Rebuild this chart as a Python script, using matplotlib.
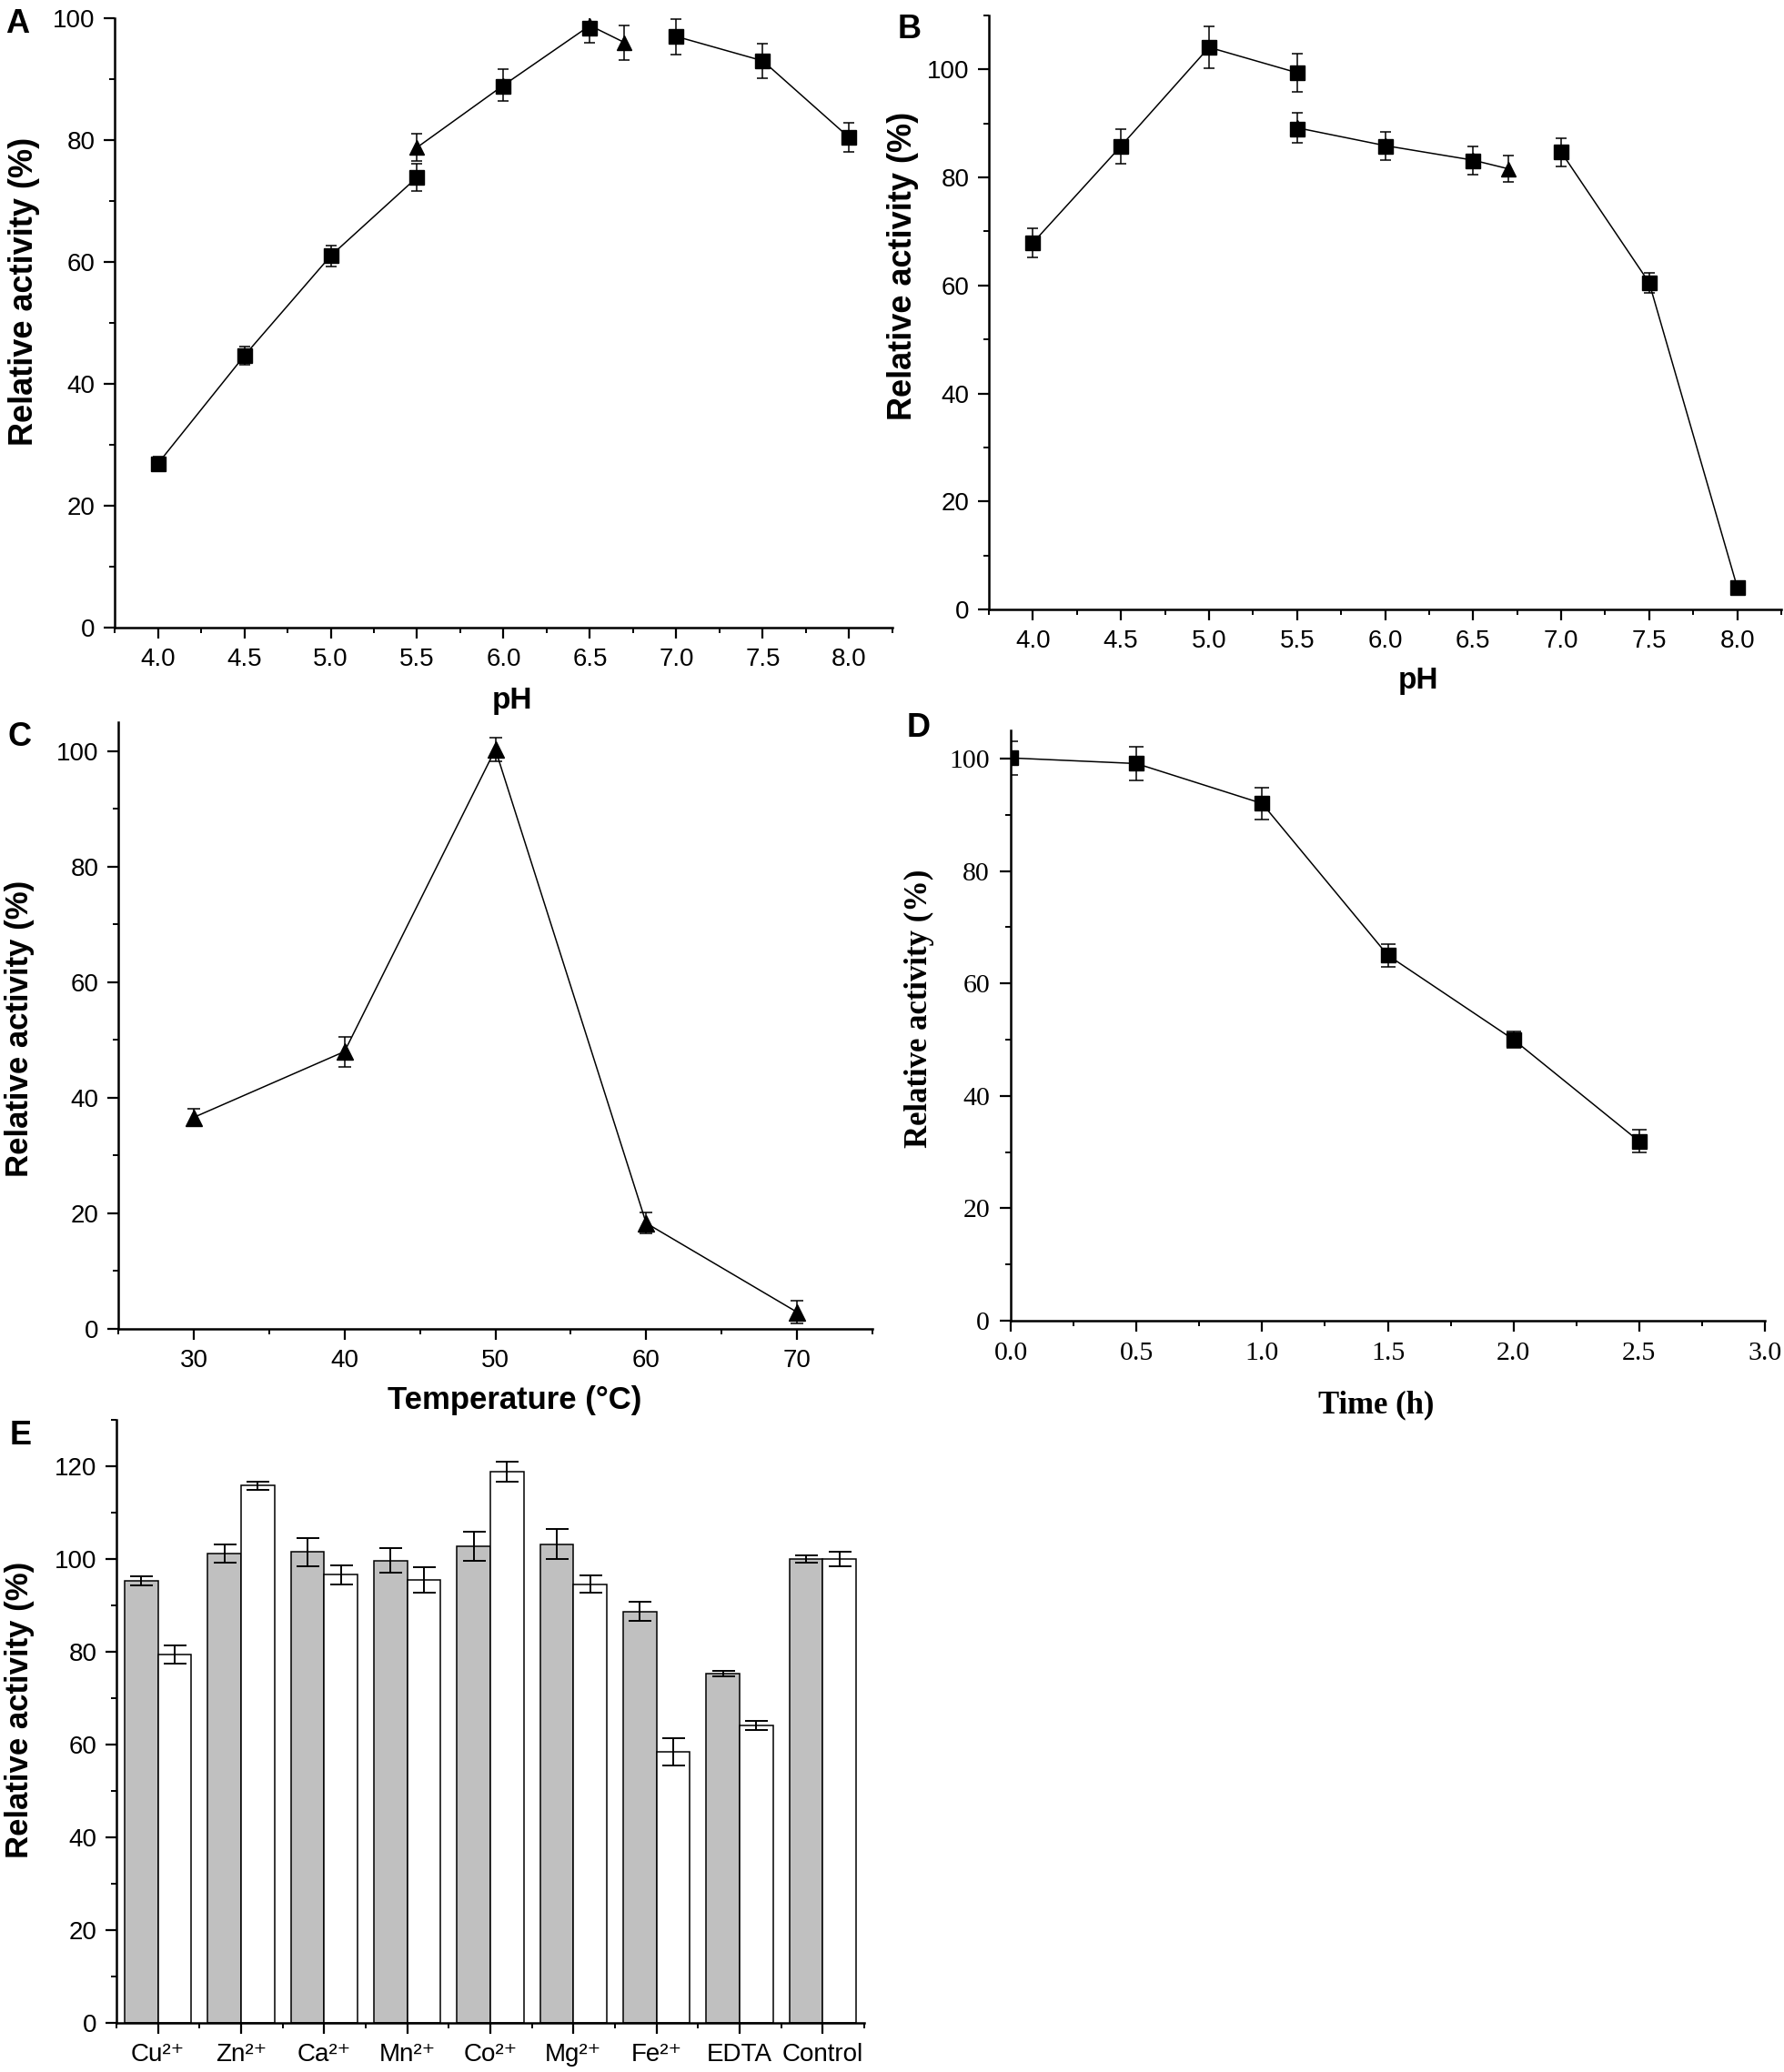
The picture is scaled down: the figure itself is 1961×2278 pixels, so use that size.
import numpy as np
import matplotlib.pyplot as plt
from matplotlib.ticker import MultipleLocator

plt.rcParams['font.family'] = ['Liberation Sans', 'DejaVu Sans']

# ---- A: pH optimum
a_x1 = [4.0, 4.5, 5.0, 5.5]
a_y1 = [26.9, 44.6, 61.0, 73.9]
a_e1 = [1.1, 1.5, 1.7, 2.2]
a_x2 = [5.5, 6.0, 6.5, 6.7]
a_y2 = [78.8, 89.0, 98.8, 96.0]
a_e2 = [2.2, 2.6, 2.9, 2.8]
a_x2sq = [6.0, 6.5]
a_y2sq = [88.8, 98.3]
a_x3 = [7.0, 7.5, 8.0]
a_y3 = [97.0, 93.0, 80.4]
a_e3 = [2.9, 2.8, 2.4]

# ---- B: pH stability
b_x1 = [4.0, 4.5, 5.0, 5.5]
b_y1 = [67.9, 85.8, 104.1, 99.4]
b_e1 = [2.7, 3.2, 3.8, 3.6]
b_x2 = [5.5, 6.0, 6.5, 6.7]
b_y2 = [89.2, 85.9, 83.2, 81.6]
b_e2 = [2.7, 2.6, 2.6, 2.5]
b_x2sq = [5.5, 6.0, 6.5]
b_y2sq = [89.0, 85.8, 83.1]
b_x3 = [7.0, 7.5, 8.0]
b_y3 = [84.7, 60.5, 4.1]
b_e3 = [2.6, 1.8, 0.5]

# ---- C: temperature optimum
c_x = [30, 40, 50, 60, 70]
c_y = [36.6, 48.0, 100.3, 18.3, 2.9]
c_e = [1.5, 2.6, 2.0, 1.8, 2.0]

# ---- D: thermal stability
d_x = [0.0, 0.5, 1.0, 1.5, 2.0, 2.5]
d_y = [100.1, 99.1, 92.0, 65.0, 50.0, 31.9]
d_e = [3.0, 3.0, 2.8, 2.0, 1.5, 2.0]

# ---- E: metal ions
e_labels = ['Cu²⁺', 'Zn²⁺', 'Ca²⁺', 'Mn²⁺', 'Co²⁺', 'Mg²⁺', 'Fe²⁺', 'EDTA', 'Control']
e_gray = [95.3, 101.2, 101.5, 99.7, 102.7, 103.2, 88.7, 75.3, 100.0]
e_gray_err = [1.0, 1.9, 3.0, 2.6, 3.1, 3.2, 2.0, 0.5, 0.8]
e_white = [79.4, 115.8, 96.6, 95.5, 118.8, 94.6, 58.4, 64.1, 100.0]
e_white_err = [1.9, 0.9, 2.0, 2.8, 2.2, 1.8, 3.0, 1.0, 1.5]

W, H = 1961, 2278
fig = plt.figure(figsize=(W / 100, H / 100), dpi=100)


def panel(box):
    l, t, r, b = box
    return fig.add_axes([l / W, 1 - b / H, (r - l) / W, (b - t) / H])


def style(ax, size=20, pad=7):
    for s in ['top', 'right']:
        ax.spines[s].set_visible(False)
    for s in ['left', 'bottom']:
        ax.spines[s].set_linewidth(1.8)
    ax.tick_params(which='major', direction='out', length=8.5, width=1.6,
                   labelsize=size, pad=pad)
    ax.tick_params(which='minor', direction='out', length=4.5, width=1.4)


def put_label(ax, box, which, text, cx, cy, **kw):
    l, t, r, b = box
    fx = (cx - l) / (r - l)
    fy = (b - cy) / (b - t)
    if which == 'x':
        ax.set_xlabel(text, **kw)
        ax.xaxis.set_label_coords(fx, fy)
        ax.xaxis.label.set_va('center')
    else:
        ax.set_ylabel(text, **kw)
        ax.yaxis.set_label_coords(fx, fy)
        ax.yaxis.label.set_va('center')


def eb(ax, x, y, e, marker, ms=11, cap=4.5):
    ax.errorbar(x, y, yerr=e, fmt='-' + marker, color='k', ms=ms, lw=1.1,
                elinewidth=1.1, capsize=cap, capthick=1.1)


ylab = 'Relative activity (%)'

# ---------------- A
box_a = (126, 20, 981, 690)
ax = panel(box_a)
eb(ax, a_x1, a_y1, a_e1, 's')
eb(ax, a_x2, a_y2, a_e2, '^', ms=12)
ax.plot(a_x2sq, a_y2sq, 's', color='k', ms=11)
eb(ax, a_x3, a_y3, a_e3, 's')
ax.set_xlim(3.75, 8.25)
ax.set_ylim(0, 100)
ax.set_xticks(np.arange(4.0, 8.01, 0.5))
ax.xaxis.set_minor_locator(MultipleLocator(0.25))
ax.set_yticks(np.arange(0, 101, 20))
ax.yaxis.set_minor_locator(MultipleLocator(10))
ax.xaxis.set_major_formatter(lambda v, p: f'{v:.1f}')
style(ax)
put_label(ax, box_a, 'x', 'pH', 563, 771, fontsize=24, fontweight='bold')
put_label(ax, box_a, 'y', ylab, 27, 320, fontsize=26, fontweight='bold')

# ---------------- B
box_b = (1087, 17, 1958, 670)
ax = panel(box_b)
eb(ax, b_x1, b_y1, b_e1, 's')
eb(ax, b_x2, b_y2, b_e2, '^', ms=12)
ax.plot(b_x2sq, b_y2sq, 's', color='k', ms=11)
eb(ax, b_x3, b_y3, b_e3, 's')
ax.set_xlim(3.75, 8.25)
ax.set_ylim(0, 110)
ax.set_xticks(np.arange(4.0, 8.01, 0.5))
ax.xaxis.set_minor_locator(MultipleLocator(0.25))
ax.set_yticks(np.arange(0, 101, 20))
ax.yaxis.set_minor_locator(MultipleLocator(10))
ax.xaxis.set_major_formatter(lambda v, p: f'{v:.1f}')
style(ax)
put_label(ax, box_b, 'x', 'pH', 1559, 748, fontsize=24, fontweight='bold')
put_label(ax, box_b, 'y', ylab, 992, 292, fontsize=26, fontweight='bold')

# ---------------- C
box_c = (130, 794, 959, 1461)
ax = panel(box_c)
eb(ax, c_x, c_y, c_e, '^', ms=13, cap=5)
ax.set_xlim(25, 75)
ax.set_ylim(0, 105)
ax.set_xticks(np.arange(30, 71, 10))
ax.xaxis.set_minor_locator(MultipleLocator(5))
ax.set_yticks(np.arange(0, 101, 20))
ax.yaxis.set_minor_locator(MultipleLocator(10))
style(ax)
put_label(ax, box_c, 'x', 'Temperature (°C)', 566, 1540, fontsize=25, fontweight='bold')
put_label(ax, box_c, 'y', ylab, 22, 1131, fontsize=25, fontweight='bold')

# ---------------- D
serif = ['Liberation Serif', 'DejaVu Serif']
box_d = (1111, 803, 1940, 1452)
ax = panel(box_d)
eb(ax, d_x, d_y, d_e, 's', ms=11.5, cap=5.5)
ax.set_xlim(0, 3)
ax.set_ylim(0, 105)
d_xt = np.arange(0, 3.01, 0.5)
d_yt = np.arange(0, 101, 20)
ax.set_xticks(d_xt)
ax.set_xticklabels([f'{v:.1f}' for v in d_xt], fontfamily=serif)
ax.set_yticks(d_yt)
ax.set_yticklabels([f'{v:d}' for v in d_yt], fontfamily=serif)
ax.xaxis.set_minor_locator(MultipleLocator(0.25))
ax.yaxis.set_minor_locator(MultipleLocator(10))
style(ax, size=21.5, pad=8)
put_label(ax, box_d, 'x', 'Time (h)', 1513, 1545, fontsize=25, fontweight='bold',
          fontfamily=serif)
put_label(ax, box_d, 'y', ylab, 1010, 1109, fontsize=25, fontweight='bold',
          fontfamily=serif)

# ---------------- E
box_e = (128, 1561, 950, 2224)
ax = panel(box_e)
xe = np.arange(len(e_labels))
ax.bar(xe - 0.2, e_gray, 0.4, color='#c0c0c0', edgecolor='k', linewidth=1.1,
       yerr=e_gray_err, capsize=9, error_kw=dict(elinewidth=1.4, capthick=1.4))
ax.bar(xe + 0.2, e_white, 0.4, color='white', edgecolor='k', linewidth=1.1,
       yerr=e_white_err, capsize=9, error_kw=dict(elinewidth=1.4, capthick=1.4))
ax.set_xlim(-0.5, len(e_labels) - 0.5)
ax.set_ylim(0, 130)
ax.set_xticks(xe)
ax.set_xticklabels(e_labels)
ax.set_xticks(np.arange(-0.5, len(e_labels), 1.0), minor=True)
ax.set_yticks(np.arange(0, 121, 20))
ax.yaxis.set_minor_locator(MultipleLocator(10))
style(ax)
put_label(ax, box_e, 'y', ylab, 22, 1880, fontsize=25, fontweight='bold')

# panel letters
for letter, px, py in [('A', 19, 27), ('B', 1000, 33), ('C', 22, 810),
                       ('D', 1010, 801), ('E', 23, 1579)]:
    fig.text(px / W, 1 - py / H, letter, fontsize=26, fontweight='bold',
             ha='center', va='center')

fig.savefig('out.png', dpi=100)
